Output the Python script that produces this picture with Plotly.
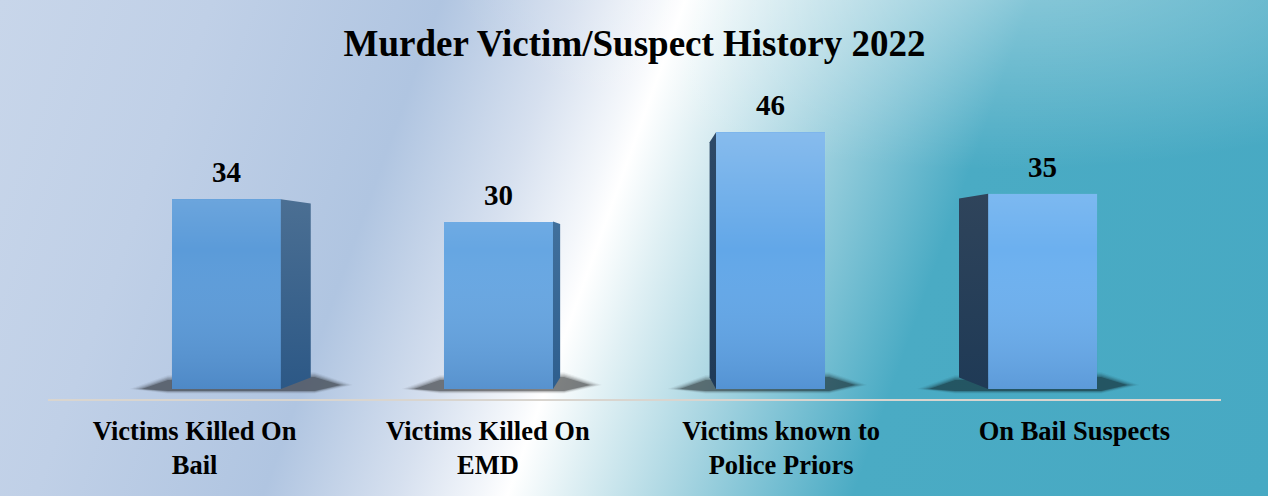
import base64
import plotly.graph_objects as go

# ---------------- data ----------------
categories = [
    "Victims Killed On Bail",
    "Victims Killed On EMD",
    "Victims known to Police Priors",
    "On Bail Suspects",
]
tick_labels = [
    "Victims Killed On<br>Bail",
    "Victims Killed On<br>EMD",
    "Victims known to<br>Police Priors",
    "On Bail Suspects",
]
values = [34, 30, 46, 35]
title_text = "Murder Victim/Suspect History 2022"

# ---------------- styling ----------------
front_colors = ["#5b9bd9", "#66a6e2", "#62a7e8", "#6cb0ef"]
side_top = ["#4b6f93", "#41709c", "#2e4a68", "#2f445b"]
side_bottom = ["#2c5886", "#2e5e8e", "#1f3a57", "#1f3a56"]
FONT = "Liberation Serif, Times New Roman, serif"

W, H = 1268, 496
L, R, T, B = 48, 47, 80, 97
plot_w = W - L - R
plot_h = H - T - B
ZERO_PX = 389            # pixel row of value 0 at the bars' front face
PX_PER_UNIT = 5.58
N = len(values)
y_min = -(H - B - ZERO_PX) / PX_PER_UNIT
y_max = (ZERO_PX - T) / PX_PER_UNIT
XU = plot_w / N          # px per x unit


def dx(px):
    return (px - L) / XU


def dy(py):
    return (ZERO_PX - py) / PX_PER_UNIT


def xpx(x):
    return L + x * XU


# perspective: bars sit a little behind the axis plane
VX = 2.0
DEPTH = 0.928
BAR_W = 0.372
bar_x = [VX + (i + 0.5 - VX) * DEPTH for i in range(N)]

# side-face vanishing point / depth
SVX, SVY, K = dx(639), dy(250), 0.9165

fig = go.Figure()

# shadows (shapes below traces)
for i, v in enumerate(values):
    xl, xr = bar_x[i] - BAR_W / 2, bar_x[i] + BAR_W / 2
    if bar_x[i] < SVX:
        xb = SVX + (xr - SVX) * K
        a, b = xpx(xl), xpx(xb)
    else:
        xb = SVX + (xl - SVX) * K
        a, b = xpx(xb), xpx(xr)
    for grow, op in [(12, 0.05), (9, 0.07), (6, 0.10), (3, 0.14), (0, 0.25)]:
        pts = [
            (a - 30 - grow, 389),
            (a - 4, 380 - grow * 0.4),
            (b + 4, 377 - grow * 0.4),
            (b + 30 + grow, 385),
            (b + 4, 391 + grow * 0.2),
            (a - 4, 391 + grow * 0.2),
        ]
        path = "M " + " L ".join(f"{dx(p[0]):.4f},{dy(p[1]):.4f}" for p in pts) + " Z"
        fig.add_shape(type="path", path=path, xref="x", yref="y",
                      fillcolor=f"rgba(0,0,0,{op})", line=dict(width=0), layer="below")

# side faces
for i, v in enumerate(values):
    xl, xr = bar_x[i] - BAR_W / 2, bar_x[i] + BAR_W / 2
    edge = xr if bar_x[i] < SVX else xl
    xb = SVX + (edge - SVX) * K
    ytb = SVY + (v - SVY) * K
    ybb = SVY + (0 - SVY) * K
    fig.add_trace(go.Scatter(
        x=[edge, edge, xb, xb, edge], y=[0, v, ytb, ybb, 0],
        mode="lines", fill="toself",
        fillgradient=dict(type="vertical",
                          colorscale=[[0, side_bottom[i]], [1, side_top[i]]]),
        line=dict(width=0), hoverinfo="skip", showlegend=False,
    ))

# front faces
fig.add_trace(go.Bar(
    x=bar_x, y=values, width=BAR_W, marker=dict(color=front_colors, line=dict(width=0)),
    customdata=categories, hovertemplate="%{customdata}: %{y}<extra></extra>",
    showlegend=False,
))

# shading on the front faces
for i, v in enumerate(values):
    xl, xr = bar_x[i] - BAR_W / 2, bar_x[i] + BAR_W / 2
    fig.add_trace(go.Scatter(
        x=[xl, xr, xr, xl, xl], y=[0, 0, v, v, 0],
        mode="lines", fill="toself",
        fillgradient=dict(type="vertical", start=0, stop=50,
                          colorscale=[[0, "rgba(10,40,100,0.16)"],
                                      [0.5, "rgba(255,255,255,0)"],
                                      [1, "rgba(255,255,255,0.28)"]]),
        line=dict(width=0), hoverinfo="skip", showlegend=False,
    ))

# value labels
for i, v in enumerate(values):
    fig.add_annotation(
        x=bar_x[i], y=v, text=f"<b>{v}</b>", showarrow=False,
        yanchor="middle", yshift=27,
        font=dict(family=FONT, size=29, color="#000000"),
    )

# background gradient (svg)
stops = [
    (0.000, "#c8d6ea"), (0.147, "#c0d0e7"), (0.305, "#b0c5e1"),
    (0.397, "#d6e0ef"), (0.456, "#f4f7fb"), (0.474, "#ffffff"),
    (0.514, "#e0f0f4"), (0.588, "#aad6e2"), (0.661, "#72bdd1"),
    (0.713, "#4aabc4"), (1.000, "#47a9c3"),
]
stop_xml = "".join(f"<stop offset='{o}' stop-color='{c}'/>" for o, c in stops)
svg = (
    f"<svg xmlns='http://www.w3.org/2000/svg' width='{W}' height='{H}' "
    f"viewBox='0 0 {W} {H}' preserveAspectRatio='none'><defs>"
    f"<linearGradient id='g' gradientUnits='userSpaceOnUse' x1='0' y1='0' x2='1281' y2='460'>"
    f"{stop_xml}</linearGradient>"
    f"<radialGradient id='h' gradientUnits='userSpaceOnUse' cx='0' cy='0' r='350' "
    f"gradientTransform='translate(1000,-40) scale(1.6,0.6)'>"
    f"<stop offset='0' stop-color='#ffffff' stop-opacity='0.4'/>"
    f"<stop offset='1' stop-color='#ffffff' stop-opacity='0'/></radialGradient>"
    f"</defs><rect width='{W}' height='{H}' fill='url(#g)'/>"
    f"<rect width='{W}' height='{H}' fill='url(#h)'/></svg>"
)
src = "data:image/svg+xml;base64," + base64.b64encode(svg.encode()).decode()
fig.add_layout_image(
    source=src, xref="paper", yref="paper",
    x=-L / plot_w, y=1 + T / plot_h, sizex=W / plot_w, sizey=H / plot_h,
    xanchor="left", yanchor="top", sizing="stretch", layer="below",
)

fig.update_layout(
    width=W, height=H,
    margin=dict(l=L, r=R, t=T, b=B, pad=0),
    paper_bgcolor="#c8d6ea", plot_bgcolor="rgba(0,0,0,0)",
    title=dict(text=f"<b>{title_text}</b>", x=0.5, xref="paper",
               y=1 - 43 / H, yref="container", yanchor="middle",
               font=dict(family=FONT, size=37, color="#000000")),
    bargap=0,
    xaxis=dict(range=[0, N], tickvals=[i + 0.5 for i in range(N)],
               ticktext=[f"<b>{t}</b>" for t in tick_labels],
               showgrid=False, zeroline=False, showline=True, linecolor="#d9d5cf", linewidth=2,
               ticks="", ticklabelstandoff=7, fixedrange=True,
               tickfont=dict(family=FONT, size=26.5, color="#000000")),
    yaxis=dict(range=[y_min, y_max], visible=False, showgrid=False, zeroline=False, fixedrange=True),
)

fig.write_html("out.html", config={"displayModeBar": False},
               post_script="document.body.style.margin='0';")
